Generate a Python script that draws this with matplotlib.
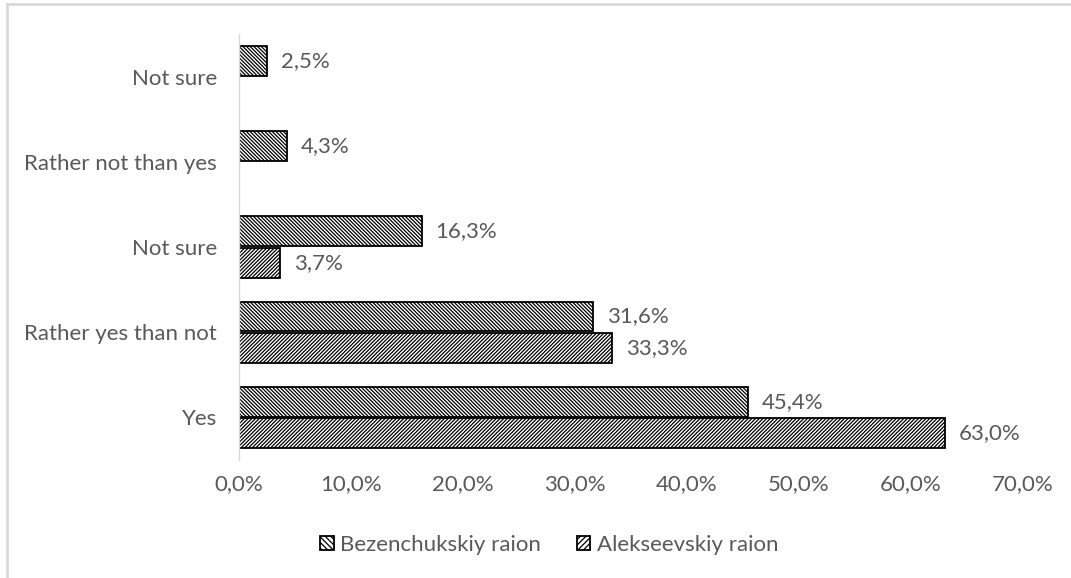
import matplotlib
matplotlib.use("agg")
import matplotlib.pyplot as plt
import numpy as np
from matplotlib.patches import Patch

plt.rcParams["font.family"] = ["Lato", "DejaVu Sans"]
plt.rcParams["hatch.linewidth"] = 0.9

# answers, bottom to top
categories = ["Yes", "Rather yes than not", "Not sure", "Rather not than yes", "Not sure"]
bezenchuk = [45.4, 31.6, 16.3, 4.3, 2.5]
alekseev = [63.0, 33.3, 3.7, None, None]
series_names = ["Bezenchukskiy raion", "Alekseevskiy raion"]
xticks = [0, 10, 20, 30, 40, 50, 60, 70]

grey = "#595959"
bar_h = 0.35
hatch_bez = "\\" * 9
hatch_alek = "/" * 9

fig = plt.figure(figsize=(10.71, 5.78), dpi=100)
ax = fig.add_axes([0.2232, 0.2042, 0.732, 0.737])

# thin grey frame around the chart area
fig.add_artist(plt.Line2D([7 / 1071, 1.0], [1 - 4 / 578] * 2, color="#d9d9d9", lw=2,
                          transform=fig.transFigure))
fig.add_artist(plt.Line2D([7 / 1071] * 2, [0.0, 1 - 4 / 578], color="#d9d9d9", lw=2,
                          transform=fig.transFigure))

y = np.arange(len(categories))


def draw_series(values, offset, hatch):
    for yi, v in zip(y, values):
        if v is None:
            continue
        ax.barh(yi + offset, v, height=bar_h, color="white", edgecolor="black",
                linewidth=1.3, hatch=hatch)
        ax.annotate(f"{v:.1f}%".replace(".", ","), xy=(v, yi + offset),
                    xytext=(10, 0), textcoords="offset points", va="center",
                    ha="left", color=grey, fontsize=16)


draw_series(bezenchuk, bar_h / 2 + 0.01, hatch_bez)
draw_series(alekseev, -bar_h / 2 - 0.01, hatch_alek)

ax.set_xlim(0, 70)
ax.set_ylim(-0.5, len(categories) - 0.5)
ax.set_xticks(xticks)
ax.set_xticklabels([f"{t:.1f}%".replace(".", ",") for t in xticks])
ax.set_yticks(y)
ax.set_yticklabels(categories)
ax.tick_params(axis="both", length=0, labelsize=16, labelcolor=grey)
ax.tick_params(axis="y", pad=16)
ax.tick_params(axis="x", pad=10)

for side in ["top", "right", "bottom"]:
    ax.spines[side].set_visible(False)
ax.spines["left"].set_color("#d9d9d9")
ax.spines["left"].set_linewidth(1.0)

handles = [Patch(facecolor="white", edgecolor="black", hatch="\\" * 6, lw=1.3),
           Patch(facecolor="white", edgecolor="black", hatch="/" * 6, lw=1.3)]
fig.legend(handles, series_names, loc="center", bbox_to_anchor=(0.513, 0.057),
           ncol=2, frameon=False, fontsize=16, labelcolor=grey,
           handlelength=0.6, handleheight=0.6, handletextpad=0.3, columnspacing=1.6)

fig.savefig("out.png", dpi=100)
